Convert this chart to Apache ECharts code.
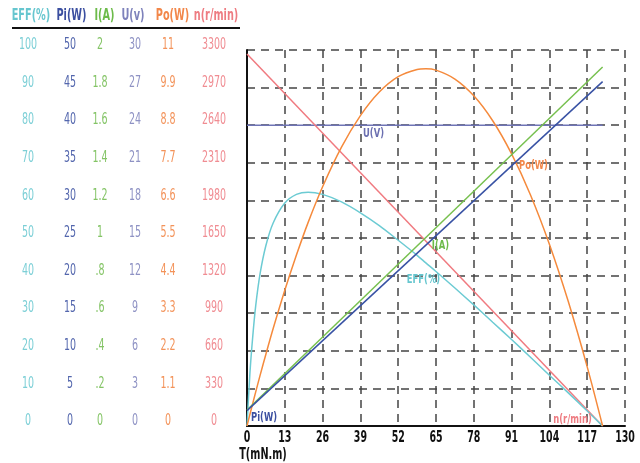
<!DOCTYPE html>
<html><head><meta charset="utf-8">
<script src="https://cdn.jsdelivr.net/npm/echarts@6/dist/echarts.min.js"></script>
<style>html,body{margin:0;padding:0;background:#fff}#c{width:640px;height:463px}</style>
</head><body><div id="c"></div>
<script>
const FONT = '"DejaVu Sans Condensed","Liberation Sans",sans-serif';

// Curve samples (T in mN.m)
const torque = [0, 1, 2, 3, 4.5, 6.5, 9, 13, 17, 21, 26, 32.5, 39, 45.5, 52, 58.5, 61.5, 65, 71.5, 78, 84.5, 91, 97.5, 104, 110.5, 117, 122.3];
const effData = [0, 14, 24, 32, 40.5, 48, 54, 59.3, 61.6, 62.2, 61.6, 59.6, 56.7, 53.3, 49.4, 45.4, 43.4, 41.1, 36.7, 32.2, 27.6, 23, 18.3, 13.5, 8.8, 4, 0];
const poData = [0, 0.34, 0.67, 1.0, 1.48, 2.1, 2.85, 3.97, 5.0, 5.95, 7.0, 8.16, 9.08, 9.77, 10.22, 10.43, 10.45, 10.41, 10.15, 9.66, 8.93, 7.96, 6.76, 5.32, 3.64, 1.73, 0];
const lineTorque = [0, 122.3];
const piData = [2.04, 45.8];
const iData = [0.085, 1.91];
const uData = [24, 24];
const nData = [3264, 0];

// Tick labels
const xTicks = ['0','13','26','39','52','65','78','91','104','117','130'];
const effTicks = ['0','10','20','30','40','50','60','70','80','90','100'];
const piTicks = ['0','5','10','15','20','25','30','35','40','45','50'];
const iTicks = ['0','.2','.4','.6','.8','1','1.2','1.4','1.6','1.8','2'];
const uTicks = ['0','3','6','9','12','15','18','21','24','27','30'];
const poTicks = ['0','1.1','2.2','3.3','4.4','5.5','6.6','7.7','8.8','9.9','11'];
const nTicks = ['0','330','660','990','1320','1650','1980','2310','2640','2970','3300'];

const headers = ['EFF(%)','Pi(W)','I(A)','U(v)','Po(W)','n(r/min)'];
const headerX = [31, 71.5, 104.5, 133, 172.5, 216];
const headerColors = ['#66c6cf','#3b4fa0','#6dbb4a','#7e82bb','#f2874a','#ee7c82'];
const tickColors = ['#7ccfd6','#5366ad','#84c466','#8e92c4','#f3935a','#f08c92'];
const colCenters = [28, 70, 100, 135, 168, 214];
const tickSets = [effTicks, piTicks, iTicks, uTicks, poTicks, nTicks];

const lineColors = {eff:'#6ccbd3', pi:'#3852a4', i:'#77c04f', u:'#6f74b5', po:'#f58a3c', n:'#f07a80'};

const GL = 247, GR = 625, GT = 50, GB = 426;

function pairs(xs, ys){ return xs.map((x,k)=>[x, ys[k]]); }

const yAxes = [{
  type:'value', min:0, max:100, interval:10, position:'left', offset:0,
  axisLine:{show:true, onZero:false, lineStyle:{color:'#111', width:2}},
  axisTick:{show:false}, axisLabel:{show:false},
  splitLine:{show:true, lineStyle:{color:'#444', width:1.5, type:[8,6]}}
}];
tickSets.forEach((ticks, c)=>{
  const max = parseFloat(ticks[ticks.length-1]);
  yAxes.push({
    type:'value', min:0, max:max, interval:max/10, position:'left', offset:0,
    axisLine:{show:false}, axisTick:{show:false}, splitLine:{show:false},
    axisLabel:{show:false}
  });
});

function txt(str, x, y, color, size, weight, sx){
  return {type:'text', x, y, scaleX:sx, scaleY:1, z:100,
    style:{x:0, y:0, text:str, fill:color, font:(weight||'normal')+' '+size+'px '+FONT,
      textAlign:'center', textVerticalAlign:'middle'}};
}

function lineSeries(name, data, yIdx, color, smooth){
  return {name, type:'line', data, yAxisIndex:yIdx, xAxisIndex:0, symbol:'none',
    smooth: smooth ? 0.3 : false,
    lineStyle:{color, width:1.5}, animation:false, silent:true};
}

const chart = echarts.init(document.getElementById('c'), null, {renderer:'canvas'});
chart.setOption({
  animation:false,
  backgroundColor:'#fff',
  grid:{left:GL, right:640-GR, top:GT, bottom:463-GB, containLabel:false, outerBoundsMode:'none'},
  xAxis:{
    type:'value', min:0, max:130, interval:13,
    axisLine:{show:true, onZero:false, lineStyle:{color:'#111', width:2}},
    axisTick:{show:false},
    axisLabel:{show:false},
    splitLine:{show:true, lineStyle:{color:'#444', width:1.5, type:[8,6]}}
  },
  yAxis: yAxes,
  series:[
    lineSeries('U', pairs(lineTorque, uData), 4, lineColors.u, false),
    lineSeries('n', pairs(lineTorque, nData), 6, lineColors.n, false),
    lineSeries('EFF', pairs(torque, effData), 1, lineColors.eff, true),
    lineSeries('Po', pairs(torque, poData), 5, lineColors.po, true),
    lineSeries('I', pairs(lineTorque, iData), 3, lineColors.i, false),
    lineSeries('Pi', pairs(lineTorque, piData), 2, lineColors.pi, false)
  ]
});

// Text placed through the axes' own scales
const graphics = [];
headers.forEach((h,c)=>{
  graphics.push(txt(h, headerX[c], 16, headerColors[c], 15, 'bold', 0.72));
});
graphics.push({type:'line', shape:{x1:12, y1:28, x2:240, y2:28}, style:{stroke:'#111', lineWidth:2}});
tickSets.forEach((ticks, c)=>{
  const max = parseFloat(ticks[ticks.length-1]);
  ticks.forEach((t, k)=>{
    const py = chart.convertToPixel({yAxisIndex:c+1}, max*k/10);
    graphics.push(txt(t, colCenters[c], py - 5, tickColors[c], 16, 'normal', 0.66));
  });
});
xTicks.forEach((t, k)=>{
  const px = chart.convertToPixel({xAxisIndex:0}, 13*k);
  graphics.push(txt(t, px, 438, '#111', 15, 'bold', 0.7));
});
graphics.push(txt('T(mN.m)', 263, 455, '#111', 15, 'bold', 0.72));
const curveLabels = [
  ['U(V)', 373.5, 133.5, '#6b6fb0'],
  ['Po(W)', 533.5, 166, '#f2874a'],
  ['I(A)', 440.5, 246, '#6dbb4a'],
  ['EFF(%)', 423.5, 280, '#66c6cf'],
  ['Pi(W)', 264, 417.5, '#3b4fa0'],
  ['n(r/min)', 572.5, 420, '#ee7c82']
];
curveLabels.forEach(l=>{
  graphics.push(txt(l[0], l[1], l[2], l[3], 13, 'bold', 0.72));
});
chart.setOption({graphic: graphics});
</script>
</body></html>
